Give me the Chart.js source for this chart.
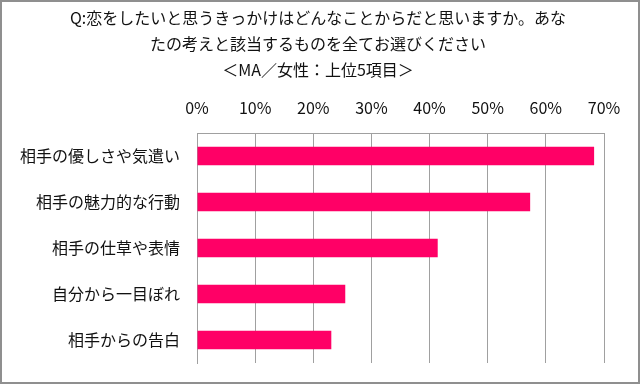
<!DOCTYPE html>
<html>
<head>
<meta charset="utf-8">
<script src="https://cdn.jsdelivr.net/npm/chart.js@4/dist/chart.umd.min.js"></script>
<style>
  html, body { margin: 0; padding: 0; background: #fff; }
  #frame {
    width: 640px; height: 384px; box-sizing: border-box;
    border: 2px solid #8f8f8f; background: #fff;
  }
  #chart { display: block; }
</style>
</head>
<body>
<div id="frame"><canvas id="chart" width="636" height="380"></canvas></div>
<script>
// Data
const titleLines = [
  "Q:恋をしたいと思うきっかけはどんなことからだと思いますか。あな",
  "たの考えと該当するものを全てお選びください",
  "＜MA／女性：上位5項目＞"
];
const categories = [
  "相手の優しさや気遣い",
  "相手の魅力的な行動",
  "相手の仕草や表情",
  "自分から一目ぼれ",
  "相手からの告白"
];
const values = [68.3, 57.3, 41.4, 25.5, 23.1];
const axisMax = 70;
const axisStep = 10;

const jpFont = "'Noto Sans CJK JP', 'Noto Sans', sans-serif";

// The built-in title is centred inside the layout padding, which pulls it
// left here, so draw the three lines ourselves over the whole canvas.
const titlePlugin = {
  id: "centredTitle",
  afterDraw(chart) {
    const c = chart.ctx;
    c.save();
    c.font = "16px " + jpFont;
    c.fillStyle = "#111";
    c.textAlign = "center";
    c.textBaseline = "middle";
    titleLines.forEach((line, i) => {
      c.fillText(line, 316, 16 + i * 26);
    });
    c.restore();
  },
};

const ctx = document.getElementById("chart").getContext("2d");
new Chart(ctx, {
  type: "bar",
  data: {
    labels: categories,
    datasets: [
      {
        label: "女性",
        data: values,
        backgroundColor: "#ff0066",
        categoryPercentage: 1,
        barPercentage: 0.4,
      },
    ],
  },
  options: {
    indexAxis: "y",
    responsive: false,
    animation: false,
    layout: { padding: { left: 0, right: 34, top: 81, bottom: 19 } },
    plugins: {
      legend: { display: false },
      tooltip: { enabled: false },
      title: { display: false },
    },
    scales: {
      x: {
        position: "top",
        min: 0,
        max: axisMax,
        ticks: {
          stepSize: axisStep,
          padding: 15,
          color: "#111",
          font: { family: jpFont, size: 16 },
          callback: (v) => v + "%",
        },
        grid: { color: "#a0a0a0", drawTicks: false, lineWidth: 1 },
        border: { display: true, color: "#a0a0a0" },
        afterFit: (scale) => {
          scale.height = 50;
          scale.paddingLeft = 0;
          scale.paddingRight = 0;
        },
      },
      y: {
        ticks: {
          padding: 17,
          color: "#111",
          font: { family: jpFont, size: 16 },
        },
        grid: { display: false, drawTicks: false },
        border: { display: true, color: "#a0a0a0" },
        afterFit: (scale) => {
          scale.width = 195;
          scale.paddingTop = 0;
          scale.paddingBottom = 0;
        },
      },
    },
  },
  plugins: [titlePlugin],
});
</script>
</body>
</html>
